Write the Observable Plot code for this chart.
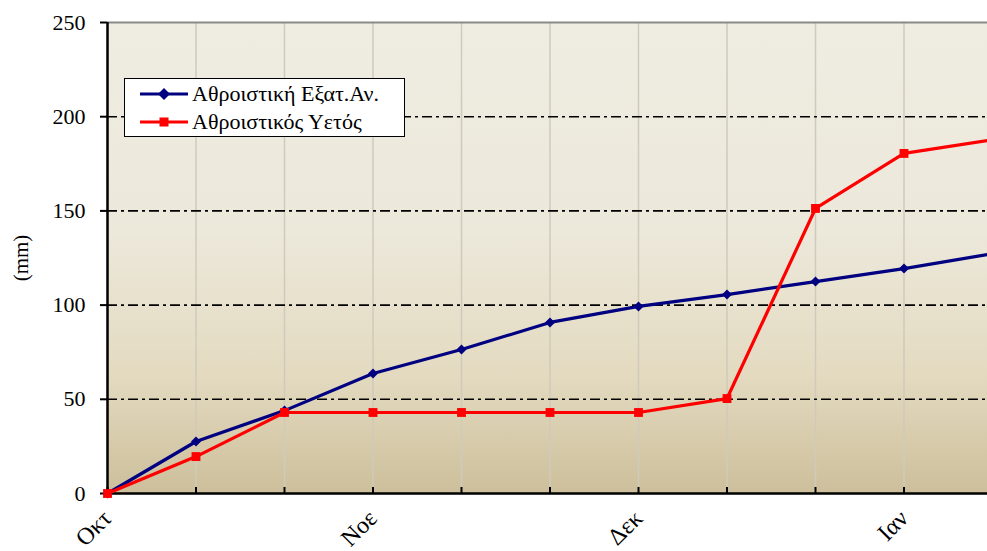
<!DOCTYPE html>
<html><head><meta charset="utf-8">
<script src="https://cdn.jsdelivr.net/npm/d3@7"></script>
<script src="https://cdn.jsdelivr.net/npm/@observablehq/plot@0.6"></script>
<style>
html,body{margin:0;padding:0;background:#fff;overflow:hidden;width:987px;height:551px}
#wrap{position:relative;width:987px;height:551px;overflow:hidden}
#chart svg{max-width:none !important;width:1000px !important;height:551px !important;display:block}
#legend{position:absolute;left:124px;top:78px;width:281px;height:59px;box-sizing:border-box;border:1.5px solid #000;background:#fff;font-family:"Liberation Serif",serif;font-size:22px;color:#000}
.row{position:absolute;left:0;height:28px;width:100%}
.row svg{position:absolute;left:0;top:0}
.row span{position:absolute;left:67px;top:1px;white-space:nowrap;line-height:26px}
</style></head>
<body><div id="wrap"><div id="chart"></div><div id="legend"></div></div>
<script>
const steps = [0, 1, 2, 3, 4, 5, 6, 7, 8, 9, 10];
const evapCum = [0, 27.6, 44, 63.7, 76.4, 90.8, 99.3, 105.6, 112.5, 119.4, 127.3];
const rainCum = [0, 19.6, 43, 43, 43, 43, 43, 50.4, 151.3, 180.5, 187.8];
const monthTicks = [0, 3, 6, 9];
const monthLabels = ["Οκτ", "Νοε", "Δεκ", "Ιαν"];
const seriesNames = ["Αθροιστική Εξατ.Αν.", "Αθροιστικός Υετός"];
const seriesColors = ["#000080", "#ff0000"];
const yTicks = [0, 50, 100, 150, 200, 250];
const gridY = [50, 100, 150, 200];
const yLabel = "(mm)";

const evapData = steps.map((s, i) => ({s, v: evapCum[i]}));
const rainData = steps.map((s, i) => ({s, v: rainCum[i]}));

function background(index, scales, values, dims) {
  const g = d3.create("svg:g");
  const defs = g.append("defs");
  const lg = defs.append("linearGradient").attr("id", "bggrad")
    .attr("x1", 0).attr("y1", 0).attr("x2", 0).attr("y2", 1);
  [[0, "#efece2"], [0.45, "#ece8da"], [0.75, "#e3dac0"], [1, "#cdbf9b"]].forEach(([o, c]) =>
    lg.append("stop").attr("offset", o).attr("stop-color", c));
  g.append("rect")
    .attr("x", dims.marginLeft).attr("y", dims.marginTop)
    .attr("width", dims.width - dims.marginLeft - dims.marginRight)
    .attr("height", dims.height - dims.marginTop - dims.marginBottom)
    .attr("fill", "url(#bggrad)");
  return g.node();
}

const chart = Plot.plot({
  width: 1000,
  height: 551,
  marginLeft: 107,
  marginRight: 8,
  marginTop: 22,
  marginBottom: 58,
  style: {fontFamily: "'Liberation Serif', serif", fontSize: "22px", background: "#fff", color: "#000", overflow: "visible"},
  x: {domain: [0, 10]},
  y: {domain: [0, 250]},
  marks: [
    background,
    Plot.ruleX(steps, {x: d => d, stroke: "#cfcabb", strokeWidth: 1.5}),
    Plot.ruleY(gridY, {stroke: "#000", strokeWidth: 1.6, strokeDasharray: "10,4,3,4"}),
    Plot.ruleY([250], {stroke: "#8a8a8a", strokeWidth: 2}),
    Plot.axisY({ticks: yTicks, tickSize: 7, tickPadding: 15, strokeWidth: 2, label: null, fontSize: 22}),
    Plot.axisX({ticks: monthTicks, tickFormat: d => monthLabels[monthTicks.indexOf(d)], tickRotate: -45, tickSize: 0, tickPadding: 21, label: null, fontSize: 24}),
    Plot.ruleX(steps, {x: d => d, y1: 0, y2: 0, insetTop: -6, stroke: "#000", strokeWidth: 2}),
    Plot.ruleX([0], {stroke: "#000", strokeWidth: 2.5}),
    Plot.ruleY([0], {stroke: "#000", strokeWidth: 2.5}),
    Plot.line(evapData, {x: "s", y: "v", stroke: seriesColors[0], strokeWidth: 3.2}),
    Plot.line(rainData, {x: "s", y: "v", stroke: seriesColors[1], strokeWidth: 3.2}),
    Plot.dot(evapData, {x: "s", y: "v", symbol: "diamond2", r: 4.5, fill: seriesColors[0], stroke: "none"}),
    Plot.dot(rainData, {x: "s", y: "v", symbol: "square", r: 5, fill: seriesColors[1], stroke: "none"}),
    Plot.text([yLabel], {text: d => d, frameAnchor: "left", textAnchor: "middle", dx: -86, rotate: -90, fontSize: 21})
  ]
});
document.getElementById("chart").appendChild(chart);

const legend = d3.select("#legend");
seriesNames.forEach((name, i) => {
  const row = legend.append("div").attr("class", "row").style("top", (i * 28 + 1) + "px");
  const svg = row.append("svg").attr("width", 66).attr("height", 28);
  svg.append("line").attr("x1", 15).attr("x2", 63).attr("y1", 14).attr("y2", 14)
    .attr("stroke", seriesColors[i]).attr("stroke-width", 3.2);
  if (i === 0) {
    svg.append("path").attr("d", "M39,8L45,14L39,20L33,14Z").attr("fill", seriesColors[i]);
  } else {
    svg.append("rect").attr("x", 34.5).attr("y", 9.5).attr("width", 9).attr("height", 9).attr("fill", seriesColors[i]);
  }
  row.append("span").text(name);
});
</script>
</body></html>
